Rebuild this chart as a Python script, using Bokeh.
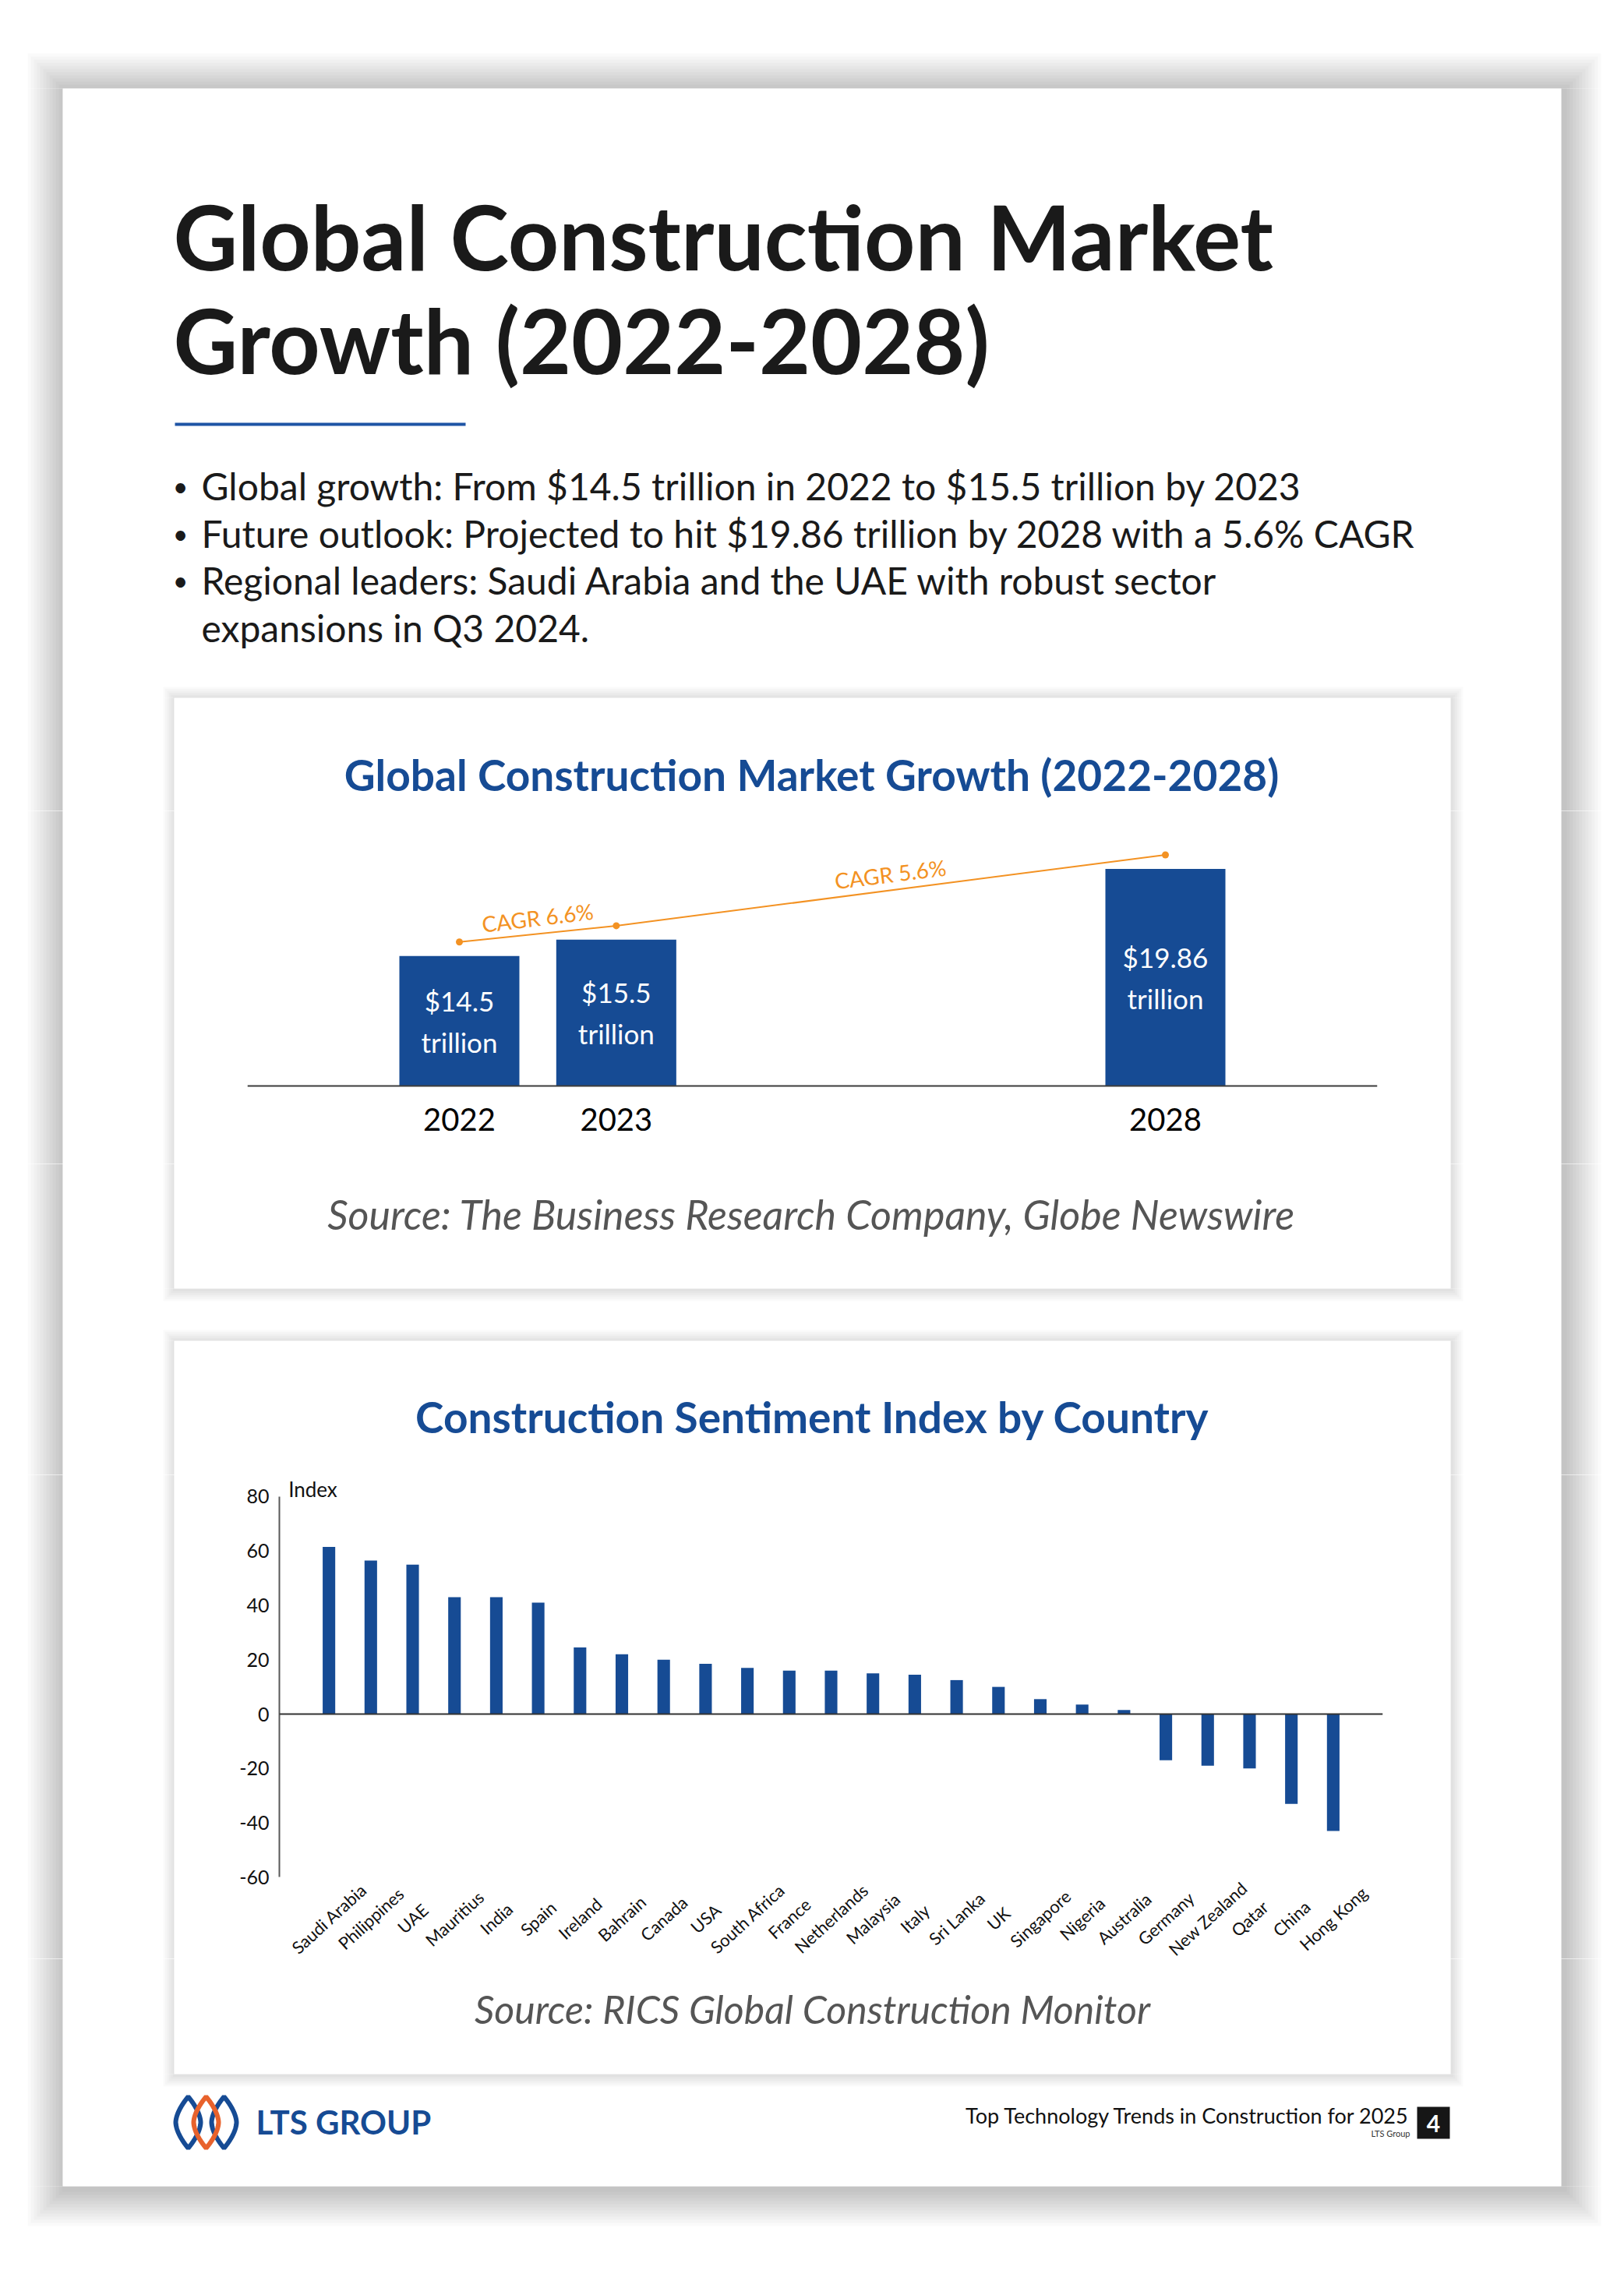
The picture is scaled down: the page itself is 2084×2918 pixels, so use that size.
import numpy as np
from bokeh.plotting import figure
from bokeh.layouts import column, row
from bokeh.models import (Range1d, FactorRange, FixedTicker, Span,
                          ColumnDataSource, PrintfTickFormatter)
from bokeh.core.properties import value
from bokeh.embed import file_html
from bokeh.resources import INLINE

# ---------------- data ----------------
market_years = ["2022", "2023", "2028"]
market_values = [14.5, 15.5, 19.86]
cagr_labels = ["CAGR 6.6%", "CAGR 5.6%"]

countries = ["Saudi Arabia", "Philippines", "UAE", "Mauritius", "India", "Spain",
             "Ireland", "Bahrain", "Canada", "USA", "South Africa", "France",
             "Netherlands", "Malaysia", "Italy", "Sri Lanka", "UK", "Singapore",
             "Nigeria", "Australia", "Germany", "New Zealand", "Qatar", "China",
             "Hong Kong"]
sentiment = [61.5, 56.5, 55, 43, 43, 41, 24.5, 22, 20, 18.5, 17, 16, 16, 15, 14.5,
             12.5, 10, 5.5, 3.5, 1.5, -17, -19, -20, -33, -43]
y_ticks = [-60, -40, -20, 0, 20, 40, 60, 80]

title_lines = ["Global Construction Market", "Growth (2022-2028)"]
bullet_lines = [
    "Global growth: From $14.5 trillion in 2022 to $15.5 trillion by 2023",
    "Future outlook: Projected to hit $19.86 trillion by 2028 with a 5.6% CAGR",
    "Regional leaders: Saudi Arabia and the UAE with robust sector",
    "expansions in Q3 2024.",
]
chart1_title = "Global Construction Market Growth (2022-2028)"
chart1_source = "Source: The Business Research Company, Globe Newswire"
chart2_title = "Construction Sentiment Index by Country"
chart2_source = "Source: RICS Global Construction Monitor"

# ---------------- style ----------------
FONT = "Lato"
BLUE = "#164B94"
ORANGE = "#F39223"
INK = "#1a1a1a"
W, H = 2084, 2918
PAGE = (80, 2003, 113, 2805)
CARDS = [(223, 1861, 895, 1653), (223, 1861, 1720, 2661)]
XL, XR = 240, 1845
BANDS = [0, 1040, 1493, 1892, 2513, H]


def base_fig(width, height, **kw):
    f = figure(width=width, height=height, output_backend="svg",
               toolbar_location=None, background_fill_color="white",
               border_fill_color="white", outline_line_color=None, **kw)
    f.frame_align = False
    f.grid.visible = False
    return f


def put_text(f, x, y, s, size, color=INK, style="normal", align="left",
             angle=0.0):
    # y is the visual middle of the line
    f.text(x=[x], y=[y], text=[s], text_font=value(FONT),
           text_font_size=f"{size}px", text_color=color,
           text_font_style=style, text_align=align, text_baseline="middle",
           angle=angle)


def shadow_ring(f, box, n, step, alpha, off):
    """Soft shadow drawn only outside `box` as nested rings of strips."""
    l0, r0, t0, b0 = box
    L, R, T, B = [], [], [], []
    for k in range(n, 0, -1):
        e = k * step
        ol, orr, ot, ob = l0 - e + off, r0 + e + off, t0 - e + off, b0 + e + off
        if ot < t0:
            L.append(ol); R.append(orr); T.append(ot); B.append(t0)
        if ob > b0:
            L.append(ol); R.append(orr); T.append(b0); B.append(ob)
        if ol < l0:
            L.append(ol); R.append(l0); T.append(t0); B.append(b0)
        if orr > r0:
            L.append(r0); R.append(orr); T.append(t0); B.append(b0)
    f.quad(left=L, right=R, top=T, bottom=B, fill_color="black",
           fill_alpha=alpha, line_color=None)


def deco(x0, x1, y0, y1):
    f = base_fig(x1 - x0, y1 - y0, x_range=Range1d(x0, x1),
                 y_range=Range1d(y1, y0), min_border=0,
                 x_axis_location=None, y_axis_location=None)
    shadow_ring(f, PAGE, 12, 4.0, 0.018, 3)
    for card in CARDS:
        shadow_ring(f, card, 6, 2.5, 0.018, 1)
    return f


# ---------------- band A : header ----------------
bandA = deco(0, W, BANDS[0], BANDS[1])
put_text(bandA, 222, 302, title_lines[0], 114, style="bold")
put_text(bandA, 222, 435, title_lines[1], 114, style="bold")
bandA.quad(left=[224], right=[597], top=[542], bottom=[546],
           fill_color="#1f55a5", line_color=None)
for i, line in enumerate(bullet_lines):
    ym = 623 + i * 60.5
    if i < 3:
        put_text(bandA, 231, ym, "\u2022", 34, align="center")
    put_text(bandA, 258, ym, line, 48)
put_text(bandA, 1041, 993, chart1_title, 55, color=BLUE, style="bold",
         align="center")

# ---------------- chart 1 : market growth ----------------
groups = ["", "", " "]
factors1 = list(zip(groups, market_years))
x1r = FactorRange(factors=factors1, group_padding=2.5, factor_padding=0,
                  range_padding=0.851, range_padding_units="absolute")
y_base = 6.5            # value at the chart's baseline
px_per_unit = 20.85
frame1_h = BANDS[2] - BANDS[1]
below_px = 100          # room under the baseline for the year labels
y_lo = y_base - below_px / px_per_unit
chart1 = base_fig(XR - XL, frame1_h, x_range=x1r,
                  y_range=Range1d(y_lo, y_lo + frame1_h / px_per_unit),
                  min_border_left=317 - XL, min_border_right=XR - 1767,
                  min_border_top=0, min_border_bottom=0,
                  x_axis_location=None, y_axis_location=None)
dots = [v + 0.86 for v in market_values]
src1 = ColumnDataSource(dict(
    x=factors1, v=market_values, year=market_years,
    base=[y_base] * len(market_values),
    mid=[(v + y_base) / 2 for v in market_values],
    label=[f"${v}\ntrillion" for v in market_values],
    dot=dots,
))
chart1.vbar(x="x", top="v", bottom="base", width=0.765, source=src1,
            fill_color=BLUE, line_color=None)
chart1.add_layout(Span(location=y_base, dimension="width",
                       line_color="#3c3c3c", line_width=2))
chart1.text(x="x", y="mid", text="label", source=src1,
            text_font=value(FONT), text_font_size="35px", text_color="white",
            text_align="center", text_baseline="middle",
            text_line_height=1.26)
chart1.text(x="x", y="base", text="year", source=src1,
            text_font=value(FONT), text_font_size="40px", text_color="#000000",
            text_align="center", text_baseline="middle", y_offset=43)
chart1.line(x="x", y="dot", source=src1, line_color=ORANGE, line_width=2)
chart1.scatter(x="x", y="dot", source=src1, size=9, fill_color=ORANGE,
               line_color=None)
# CAGR labels sit above the middle of each segment of the orange line;
# anchored at the segment's right end and shifted left by half its length
cagr_src = ColumnDataSource(dict(
    x=[factors1[1], factors1[2]],
    y=[(dots[0] + dots[1]) / 2, (dots[1] + dots[2]) / 2],
    text=cagr_labels,
    angle=[0.12, 0.125],
    dx=[-101, -353],
))
chart1.text(x="x", y="y", text="text", angle="angle", x_offset="dx",
            source=cagr_src, text_font=value(FONT), text_font_size="28px",
            text_color=ORANGE, text_align="center", text_baseline="middle",
            y_offset=-21)

L1 = deco(0, XL, BANDS[1], BANDS[2])
R1 = deco(XR, W, BANDS[1], BANDS[2])

# ---------------- band B ----------------
bandB = deco(0, W, BANDS[2], BANDS[3])
put_text(bandB, 1041, 1557, chart1_source, 52, color="#555555",
         style="italic", align="center")
put_text(bandB, 1042, 1817, chart2_title, 55, color=BLUE, style="bold",
         align="center")

# ---------------- chart 2 : sentiment ----------------
x2r = FactorRange(factors=countries, range_padding=0.685,
                  range_padding_units="absolute")
chart2 = base_fig(XR - XL, BANDS[4] - BANDS[3], x_range=x2r,
                  y_range=Range1d(-90, 88),
                  min_border_left=358 - XL, min_border_right=XR - 1774,
                  min_border_top=0, min_border_bottom=0, x_axis_location=None)
src2 = ColumnDataSource(dict(x=countries, v=sentiment,
                             base=[min(y_ticks)] * len(countries)))
chart2.vbar(x="x", top="v", bottom=0, width=0.3, source=src2,
            fill_color=BLUE, line_color=None)
chart2.add_layout(Span(location=0, dimension="width", line_color="#333333",
                       line_width=2))
chart2.text(x="x", y="base", text="x", source=src2, text_font=value(FONT),
            text_font_size="22px", text_color="#111111", text_align="center",
            text_baseline="middle", angle=0.74, y_offset=53)
chart2.text(x=[countries[0]], y=[max(y_ticks)], text=["Index"],
            text_font=value(FONT), text_font_size="26px", text_color="#111111",
            text_align="left", text_baseline="middle", x_offset=-52, y_offset=-9)
ay = chart2.yaxis[0]
ay.ticker = FixedTicker(ticks=y_ticks)
ay.formatter = PrintfTickFormatter(format="%d")
ay.bounds = (min(y_ticks), max(y_ticks))
ay.axis_line_color = "#595959"
ay.axis_line_width = 2
ay.major_tick_line_color = None
ay.minor_tick_line_color = None
ay.major_tick_out = 0
ay.major_tick_in = 0
ay.major_label_standoff = 13
ay.major_label_text_font = FONT
ay.major_label_text_font_size = "25px"
ay.major_label_text_color = "#111111"

L2 = deco(0, XL, BANDS[3], BANDS[4])
R2 = deco(XR, W, BANDS[3], BANDS[4])

# ---------------- band C : footer ----------------
bandC = deco(0, W, BANDS[4], BANDS[5])
put_text(bandC, 1042, 2577, chart2_source, 50, color="#555555",
         style="italic", align="center")


def lens(cx, cy, w, h, n=60):
    t = np.linspace(-1, 1, n)
    half = (w / 2) * (1 - np.abs(t) ** 1.7)
    xs = np.concatenate([cx + half, (cx - half)[::-1]])
    ys = np.concatenate([cy + t * h / 2, (cy + t * h / 2)[::-1]])
    return xs, ys


for cx, col in [(241, BLUE), (287, BLUE), (264, "#E8622C")]:
    xs, ys = lens(cx, 2723, 32, 66)
    bandC.patch(xs, ys, fill_color=None, line_color=col, line_width=6)
put_text(bandC, 328, 2722, "LTS GROUP", 42, color=BLUE, style="bold")
put_text(bandC, 1809, 2714, "Top Technology Trends in Construction for 2025", 27,
         color="#111111", align="right")
put_text(bandC, 1809, 2737, "LTS Group", 11, color="#333333", align="right")
bandC.quad(left=[1818], right=[1860], top=[2703], bottom=[2744],
           fill_color="#161616", line_color=None)
put_text(bandC, 1839, 2724, "4", 30, color="white", style="bold",
         align="center")

p = column(bandA, row(L1, chart1, R1), bandB, row(L2, chart2, R2), bandC,
           spacing=0)

open("out.html", "w").write(file_html(p, INLINE))
